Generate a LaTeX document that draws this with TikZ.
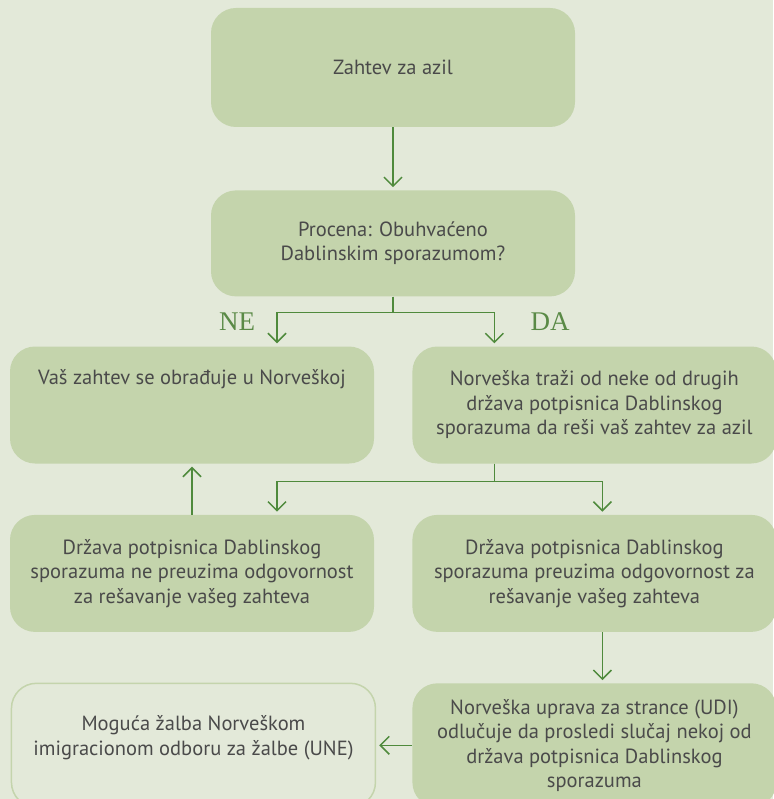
\documentclass[tikz,border=0pt]{standalone}
\usepackage{fontspec}
\setsansfont{PT Sans}
\newfontfamily\answerfont{Liberation Serif}
\usepackage{tikz}
\usetikzlibrary{arrows.meta,positioning}
\definecolor{bgcol}{HTML}{E3E9D9}
\definecolor{boxcol}{HTML}{C4D4AC}
\definecolor{linecol}{HTML}{4F8A3C}
\definecolor{txtcol}{HTML}{4A4A4A}
\definecolor{labcol}{HTML}{5A8A46}

\begin{document}
\begin{tikzpicture}[x=1pt,y=-1pt,>={Straight Barb[length=9pt,width=18pt]},shorten >=3pt,
  main node/.style={rectangle,rounded corners=25pt,fill=boxcol,text=txtcol,align=center,
    font=\sffamily\fontsize{20.5}{24.5}\selectfont,minimum width=364pt,minimum height=117pt,inner sep=0pt},
  open node/.style={main node,fill=bgcol,draw=boxcol,line width=1.5pt},
  answer node/.style={text=labcol,font=\answerfont\fontsize{27}{30}\selectfont},
  link/.style={->,draw=linecol,line width=1.5pt}]
  \path[use as bounding box] (0,0) rectangle (773,799);
  \fill[bgcol] (0,0) rectangle (773,799);

  \node[main node,minimum height=119pt] (1) at (393,67.5) {Zahtev za azil};
  \node[main node,minimum height=106pt] (2) [below=63pt of 1] {Procena: Obuhvaćeno\\Dablinskim sporazumom?};
  \node[main node] (3) at (192,405) {Vaš zahtev se obrađuje u Norveškoj\\ \strut\\ \strut};
  \node[main node] (4) [right=38pt of 3] {Norveška traži od neke od drugih\\država potpisnica Dablinskog\\sporazuma da reši vaš zahtev za azil};
  \node[main node] (5) [below=51pt of 3] {Država potpisnica Dablinskog\\sporazuma ne preuzima odgovornost\\za rešavanje vašeg zahteva};
  \node[main node] (6) [below=51pt of 4] {Država potpisnica Dablinskog\\sporazuma preuzima odgovornost za\\rešavanje vašeg zahteva};
  \node[main node,minimum height=124pt] (7) [below=51pt of 6] {Norveška uprava za strance (UDI)\\odlučuje da prosledi slučaj nekoj od\\država potpisnica Dablinskog\\sporazuma};
  \node[open node,minimum height=124pt] (8) [left=36pt of 7] {Moguća žalba Norveškom\\imigracionom odboru za žalbe (UNE)\\[-12pt]\strut};

  \node[answer node] (ne) at (237,322) {NE};
  \node[answer node] (da) at (550,322) {DA};

  \draw[link] (1) -- (2);
  \draw[link] (2.south) -- ++(0,16) -| ([xshift=85pt]3.north);
  \draw[link] (2.south) -- ++(0,16) -| ([xshift=-100pt]4.north);
  \draw[link] ([xshift=-100pt]4.south) -- ++(0,18) -| ([xshift=85pt]5.north);
  \draw[link] ([xshift=-100pt]4.south) -- ++(0,18) -| ([xshift=8pt]6.north);
  \draw[link] (5) -- (3);
  \draw[link] ([xshift=8pt]6.south) -- ([xshift=8pt]7.north);
  \draw[link] (7) -- (8);
\end{tikzpicture}
\end{document}
